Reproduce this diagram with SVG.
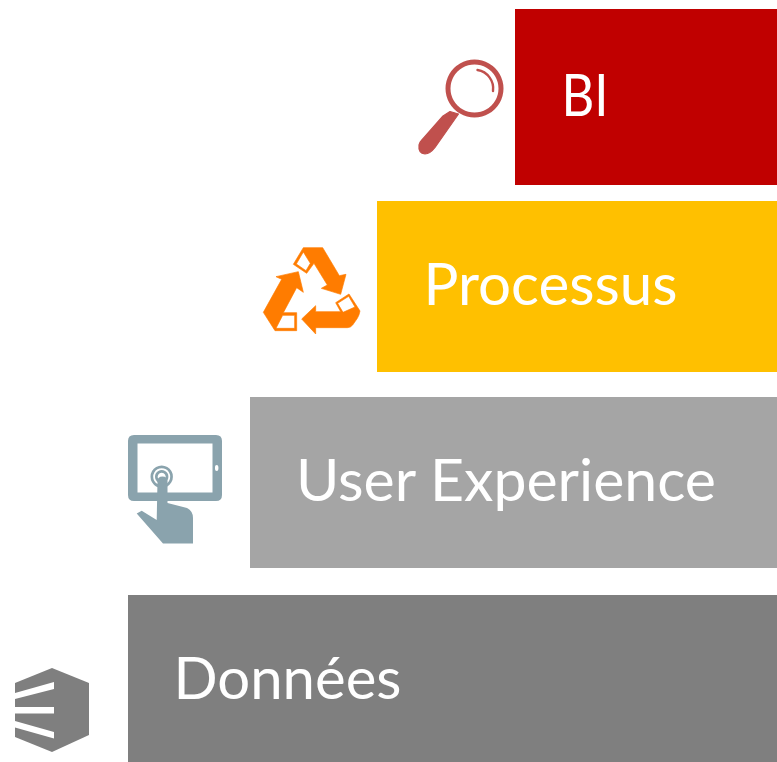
<svg xmlns="http://www.w3.org/2000/svg" width="777" height="762" viewBox="0 0 777 762">
<style>
.bar{stroke:none}
.lbl{font-family:Lato,"Liberation Sans",sans-serif;fill:#fff;font-size:59px;font-weight:400}
</style>
<rect width="777" height="762" fill="#fff"/>
<g id="node-bi">
<rect class="bar" x="515" y="9" width="262" height="176" fill="#c00000"/>
<text class="lbl" x="561.5" y="116" textLength="47" lengthAdjust="spacingAndGlyphs">BI</text>
<g id="icon-magnifier" fill="#c0504d">
<path fill-rule="evenodd" d="M474.5 59.5a29 29 0 1 0 .01 0ZM474.5 64.5a24 24 0 1 1-.01 0Z"/>
<path d="M477.5 70a18.7 18.7 0 0 1 15.5 21" fill="none" stroke="#c0504d" stroke-width="2.4" stroke-linecap="round"/>
<path stroke="#c0504d" stroke-width="1.2" stroke-linejoin="round" d="M450 111.5L458.5 114L435 147.5Q430 154 425 154Q418 153 419 145Q420 142 421 141L443 116Z"/>
</g>
</g>
<g id="node-processus">
<rect class="bar" x="377" y="201" width="400" height="171" fill="#ffc000"/>
<text class="lbl" x="423.5" y="305" textLength="254" lengthAdjust="spacingAndGlyphs">Processus</text>
<g id="icon-recycle" fill="#ff7c00" stroke="#ff7c00" stroke-width="2" stroke-linejoin="round" fill-rule="evenodd" transform="translate(250 235) scale(.33333)">
<path d="M160 38H218L268 122L288 118L272 178L214 160L232 150L192 85L170 115L130 88ZM139 87L160 51L181 85L168 107Z"/>
<path d="M155 252L197 212V230H272L257 203L297 177L330 228Q328 240 322 250L308 270Q302 278 292 278H197V297ZM263 205L296 184L315 216L279 232Z"/>
<path d="M78 125L145 110L160 172L140 158L100 233H140V287H75L40 232L95 133ZM98 241H134V280H78Z"/>
</g>
</g>
<g id="node-ux">
<rect class="bar" x="250" y="397" width="527" height="171" fill="#a5a5a5"/>
<text class="lbl" x="296" y="501" textLength="420" lengthAdjust="spacingAndGlyphs">User Experience</text>
<g id="icon-tablet" fill="#8aa3ad">
<path fill-rule="evenodd" d="M134 435H216Q222 435 222 441V495Q222 501 216 501H134Q128 501 128 495V441Q128 435 134 435ZM137.5 443.5V492.5H212.5V443.5ZM216.7 465Q215 465 215 467V469Q215 471 216.7 471Q218.4 471 218.4 469V467Q218.4 465 216.7 465Z"/>
<path fill-rule="evenodd" d="M161.7 465.5a11.2 11.2 0 1 0 .01 0ZM161.7 468.2a8.5 8.5 0 1 1-.01 0Z"/>
<path fill-rule="evenodd" d="M161.7 470a6.7 6.7 0 1 0 .01 0ZM161.7 472.7a4 4 0 1 1-.01 0Z"/>
<path d="M157.5 481Q157.5 476.5 162.5 476.5Q167.5 476.5 167.5 481V503L187 508Q193 511 193 518V543.5H163L136.7 513.5L141.7 510.7L156.7 520Z"/>
</g>
</g>
<g id="node-donnees">
<rect class="bar" x="128" y="595" width="649" height="167" fill="#7f7f7f"/>
<text class="lbl" x="173.5" y="699" textLength="228" lengthAdjust="spacingAndGlyphs">Données</text>
<path id="icon-data" fill="#7f7f7f" d="M52 668L89 683V735L52 752L15 737V683Z"/>
<path fill="#fff" d="M15 693L54 682V689L15 699ZM15 707H54V713.5H15ZM15 721L54 732V738.5L15 727.5Z"/>
</g>
<g id="connectors"></g>
</svg>
